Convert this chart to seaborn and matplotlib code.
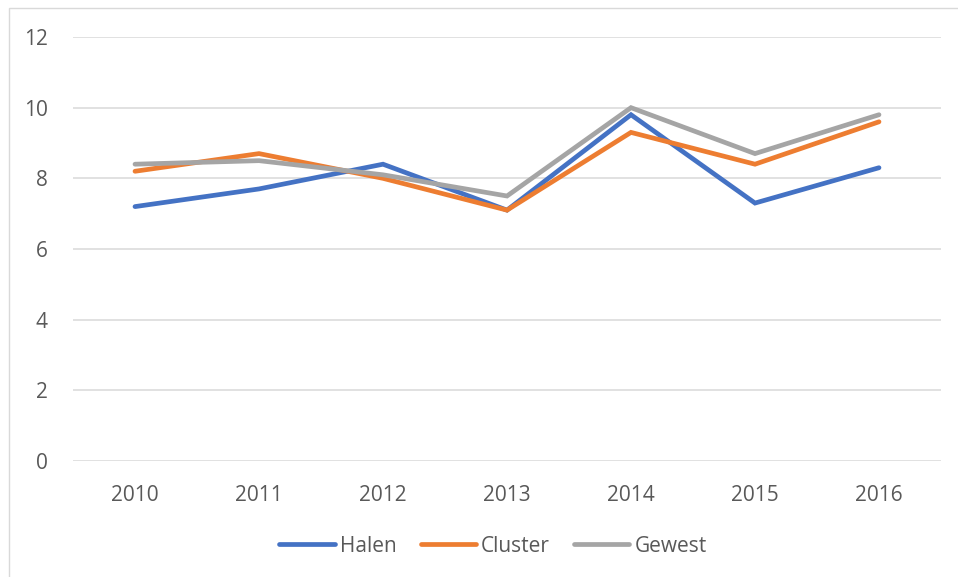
import matplotlib
matplotlib.use("Agg")
import matplotlib.pyplot as plt
import seaborn as sns
import pandas as pd
from matplotlib.patches import Rectangle
from matplotlib.lines import Line2D

years = ["2010", "2011", "2012", "2013", "2014", "2015", "2016"]
halen = [7.2, 7.7, 8.4, 7.1, 9.8, 7.3, 8.3]
cluster = [8.2, 8.7, 8.0, 7.1, 9.3, 8.4, 9.6]
gewest = [8.4, 8.5, 8.1, 7.5, 10.0, 8.7, 9.8]
series_names = ["Halen", "Cluster", "Gewest"]
colors = ["#4472C4", "#ED7D31", "#A5A5A5"]
y_ticks = [0, 2, 4, 6, 8, 10, 12]

df = pd.DataFrame({"Jaar": years, "Halen": halen, "Cluster": cluster, "Gewest": gewest})
long = df.melt(id_vars="Jaar", var_name="Reeks", value_name="Waarde")

sns.set_theme(style="white")
plt.rcParams["font.family"] = ["Open Sans", "DejaVu Sans"]

W, H = 958, 577
fig = plt.figure(figsize=(W / 100, H / 100), dpi=100)
ax = fig.add_axes([73 / W, 1 - 461 / H, (941 - 73) / W, (461 - 37) / H])

sns.lineplot(data=long, x="Jaar", y="Waarde", hue="Reeks", hue_order=series_names,
             palette=colors, linewidth=3.4, sort=False, ax=ax, legend=False)
for line in ax.lines:
    line.set_solid_capstyle("round")
    line.set_solid_joinstyle("miter")

ax.set_xlim(-0.5, len(years) - 0.5)
ax.set_ylim(0, 12)
ax.set_yticks(y_ticks)
ax.set_yticklabels([str(t) for t in y_ticks])
ax.set_xticks(range(len(years)))
ax.set_xticklabels(years)
ax.set_xlabel("")
ax.set_ylabel("")
ax.grid(axis="y", color="#D9D9D9", linewidth=1.1)
ax.set_axisbelow(True)
for s in ["top", "right", "left", "bottom"]:
    ax.spines[s].set_visible(False)
ax.tick_params(axis="both", length=0, labelsize=15, colors="#595959")
ax.tick_params(axis="y", pad=18)
ax.tick_params(axis="x", pad=17)

handles = [Line2D([0], [0], color=c, linewidth=3.4, solid_capstyle="round") for c in colors]
fig.legend(handles, series_names, loc="center", bbox_to_anchor=(493 / W, 1 - 546 / H),
           ncol=3, frameon=False, fontsize=15, handlelength=2.65, handletextpad=0.25,
           columnspacing=1.15, labelcolor="#595959")

# light chart-area border
fig.add_artist(Rectangle((9 / W, -0.01), 1.1, 1 - 8 / H + 0.01, transform=fig.transFigure,
                         fill=False, edgecolor="#D9D9D9", linewidth=1.0))

fig.savefig("out.png", dpi=100, facecolor="white")
